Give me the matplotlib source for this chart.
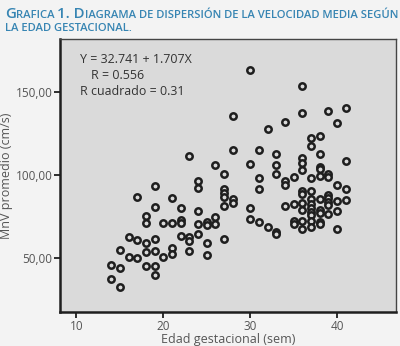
import matplotlib
matplotlib.use('Agg')
import numpy as np
import matplotlib.pyplot as plt
from matplotlib.offsetbox import TextArea, HPacker, AnchoredOffsetbox

plt.rcParams['font.family'] = ['Open Sans', 'DejaVu Sans']

# ============ DATA ============
# gestational week -> list of mean velocity values
weeks = [14, 15, 16, 17, 18, 19, 20, 21, 22, 23, 24, 25, 26, 27, 28,
         30, 31, 32, 33, 34, 35, 36, 37, 38, 39, 40, 41]
velocities = [
    [46.0, 37.5],
    [54.8, 43.8, 32.4],
    [62.4, 50.6],
    [86.9, 61.1, 50.2],
    [75.4, 71.1, 59.3, 53.8, 45.0],
    [93.7, 80.5, 61.5, 54.0, 44.9, 40.0],
    [71.4, 50.4],
    [86.5, 71.4, 56.0, 52.4],
    [80.2, 73.0, 71.0, 63.2],
    [111.6, 62.5, 60.5, 54.0],
    [96.2, 92.3, 78.4, 70.3, 64.2],
    [71.8, 69.8, 59.1, 51.6],
    [105.9, 74.8, 70.4],
    [100.6, 91.7, 89.3, 86.9, 81.4, 61.6],
    [136.0, 115.4, 85.5, 83.4],
    [163.7, 106.7, 80.1, 73.3],
    [115.2, 98.3, 91.4, 71.5],
    [127.8, 68.7],
    [112.6, 106.3, 101.0, 65.9, 64.2],
    [132.0, 96.3, 94.0, 81.3],
    [99.0, 82.5, 72.4, 70.4],
    [153.7, 137.4, 110.2, 107.4, 103.0, 90.2, 88.4, 83.2, 78.9, 72.6, 67.5],
    [122.4, 117.4, 98.1, 90.5, 85.7, 82.5, 80.0, 77.8, 75.7, 72.6, 68.7],
    [123.6, 112.8, 105.0, 103.5, 99.3, 85.7, 79.2, 77.2, 71.8, 70.8],
    [138.9, 101.0, 98.8, 88.3, 86.3, 84.1, 81.9, 76.5],
    [131.3, 94.2, 84.3, 78.6, 67.4],
    [140.7, 108.6, 91.7, 84.9],
]

x_ticks = [10, 20, 30, 40]
y_ticks = [50, 100, 150]
y_tick_labels = ['50,00', '100,00', '150,00']

stats_lines = ['Y = 32.741 + 1.707X', 'R = 0.556', 'R cuadrado = 0.31']

xs = np.concatenate([[w] * len(v) for w, v in zip(weeks, velocities)])
ys = np.concatenate(velocities)

# ============ FIGURE ============
fig = plt.figure(figsize=(4.0, 3.46), dpi=100, facecolor='#f3f3f3')
ax = fig.add_axes([0.150, 0.098, 0.840, 0.788])
ax.set_facecolor('#dadada')

ax.plot(xs, ys, 'o', ms=4.6, mfc='#dadada', mec='#1e1e1e', mew=1.8, ls='none')

ax.set_xlim(8.1, 46.8)
ax.set_ylim(17.3, 182)
ax.set_xticks(x_ticks)
ax.set_yticks(y_ticks)
ax.set_yticklabels(y_tick_labels)
ax.tick_params(axis='both', direction='out', length=4, width=1.3, color='#1e1e1e',
               labelsize=8.5, labelcolor='#555555', pad=1.5)

for side in ['left', 'bottom']:
    ax.spines[side].set_linewidth(1.8)
    ax.spines[side].set_color('#1e1e1e')
for side in ['top', 'right']:
    ax.spines[side].set_linewidth(1.0)
    ax.spines[side].set_color('#444444')

ax.set_xlabel('Edad gestacional (sem)', fontsize=9, color='#555555', labelpad=0)
ax.set_ylabel('MnV promedio (cm/s)', fontsize=9, color='#555555', labelpad=2)

# regression summary box
txt_kw = dict(transform=ax.transAxes, fontsize=8.9, color='#333333', va='center', ha='left')
ax.text(0.060, 0.925, stats_lines[0], **txt_kw)
ax.text(0.093, 0.868, stats_lines[1], **txt_kw)
ax.text(0.060, 0.810, stats_lines[2], **txt_kw)

# ============ TITLE (small caps emulated) ============
blue = '#3785b3'
big, small = 10.8, 8.1


def caps_row(parts):
    boxes = [TextArea(s, textprops=dict(fontsize=big if b else small, color=blue,
                                        fontweight='semibold'))
             for s, b in parts]
    return HPacker(children=boxes, align='baseline', pad=0, sep=0)


row1 = caps_row([('G', True), ('RAFICA ', False), ('1. D', True),
                 ('IAGRAMA DE DISPERSIÓN DE LA VELOCIDAD MEDIA SEGÚN', False)])
row2 = caps_row([('LA EDAD GESTACIONAL.', False)])

for row, ypos in [(row1, 1.0 - 7 / 346), (row2, 1.0 - 23 / 346)]:
    ab = AnchoredOffsetbox(loc='upper left', child=row, pad=0, borderpad=0, frameon=False,
                           bbox_to_anchor=(5 / 400, ypos), bbox_transform=fig.transFigure)
    fig.add_artist(ab)

fig.savefig('out.png', dpi=100, facecolor=fig.get_facecolor())
